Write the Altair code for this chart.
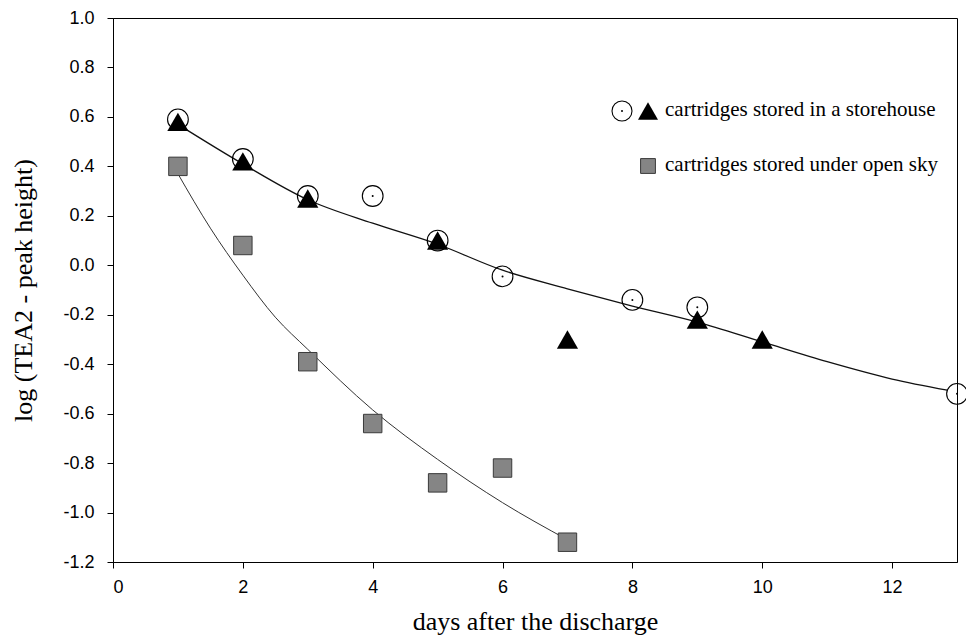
import altair as alt
import pandas as pd

# ---- data ----
store_circle_x = [1, 2, 3, 4, 5, 6, 8, 9, 13]
store_circle_y = [0.59, 0.43, 0.28, 0.28, 0.10, -0.045, -0.14, -0.17, -0.52]

store_tri_x = [1, 2, 3, 5, 7, 9, 10]
store_tri_y = [0.58, 0.42, 0.27, 0.10, -0.30, -0.22, -0.30]

sky_sq_x = [1, 2, 3, 4, 5, 6, 7]
sky_sq_y = [0.40, 0.08, -0.39, -0.64, -0.88, -0.82, -1.12]

# fitted curves
store_fit_x = [1, 2, 3, 4, 5, 6, 7, 8, 9, 10, 11, 12, 12.85]
store_fit_y = [0.57, 0.41, 0.265, 0.17, 0.085, -0.02, -0.095, -0.165, -0.23, -0.31, -0.39, -0.46, -0.505]

sky_fit_x = [1, 1.5, 2, 2.5, 3, 4, 5, 6, 7]
sky_fit_y = [0.37, 0.15, -0.04, -0.21, -0.34, -0.585, -0.785, -0.96, -1.11]

x_ticks = [0, 2, 4, 6, 8, 10, 12]
y_ticks = [-1.2, -1.0, -0.8, -0.6, -0.4, -0.2, 0.0, 0.2, 0.4, 0.6, 0.8, 1.0]

legend_labels = ["cartridges stored in a storehouse", "cartridges stored under open sky"]

SERIF = "Liberation Serif"
SANS = "Liberation Sans"

circ = pd.DataFrame({"x": store_circle_x, "y": store_circle_y})
tri = pd.DataFrame({"x": store_tri_x, "y": store_tri_y})
sq = pd.DataFrame({"x": sky_sq_x, "y": sky_sq_y})
sfit = pd.DataFrame({"x": store_fit_x, "y": store_fit_y})
kfit = pd.DataFrame({"x": sky_fit_x, "y": sky_fit_y})

label_expr = "datum.value < 0 ? '-' + format(-datum.value, '.1f') : format(datum.value, '.1f')"

xs = alt.Scale(domain=[0, 13], nice=False, zero=False)
ys = alt.Scale(domain=[-1.2, 1.0], nice=False, zero=False)

X = alt.X("x:Q", scale=xs, axis=alt.Axis(
    title="days after the discharge", values=x_ticks, format="d",
    labelFont=SANS, labelFontSize=18, labelColor="black", labelPadding=10,
    titleFont=SERIF, titleFontSize=26, titleFontWeight="normal", titleColor="black",
    titlePadding=12, domainColor="black", tickColor="black", tickSize=6, grid=False))
Y = alt.Y("y:Q", scale=ys, axis=alt.Axis(
    title="log (TEA2 - peak height)", values=y_ticks, labelExpr=label_expr,
    labelFont=SANS, labelFontSize=18, labelColor="black", labelPadding=13,
    titleFont=SERIF, titleFontSize=26, titleFontWeight="normal", titleColor="black",
    titlePadding=26, domainColor="black", tickColor="black", tickSize=6, grid=False))

l_store = alt.Chart(sfit).mark_line(color="#111111", strokeWidth=1.3, interpolate="monotone").encode(x=X, y=Y)
l_sky = alt.Chart(kfit).mark_line(color="#333333", strokeWidth=1.0, interpolate="monotone").encode(x=X, y=Y)

p_sq = alt.Chart(sq).mark_point(shape="square", size=340, filled=True, fill="#858585",
                                stroke="#3a3a3a", strokeWidth=1, opacity=1).encode(x=X, y=Y)
p_circ = alt.Chart(circ).mark_point(shape="circle", size=430, filled=False, stroke="black",
                                    strokeWidth=1.1, opacity=1).encode(x=X, y=Y)
p_dot = alt.Chart(circ).mark_point(shape="circle", size=4, filled=True, color="black",
                                   opacity=1).encode(x=X, y=Y)
p_tri = alt.Chart(tri).mark_point(shape="triangle-up", size=450, filled=True, color="black",
                                  opacity=1).encode(x=X, y=Y)

# manual legend (pixel positions inside the plot area)
leg_df = pd.DataFrame({"label": legend_labels, "row": [0, 1]})
leg_circle = alt.Chart(leg_df.iloc[[0]]).mark_point(shape="circle", size=400, filled=False,
                                                     stroke="black", strokeWidth=1.1, opacity=1).encode(
    x=alt.value(509), y=alt.value(93))
leg_cdot = alt.Chart(leg_df.iloc[[0]]).mark_point(shape="circle", size=4, filled=True, color="black",
                                                   opacity=1).encode(x=alt.value(509), y=alt.value(93))
leg_tri = alt.Chart(leg_df.iloc[[0]]).mark_point(shape="triangle-up", size=400, filled=True,
                                                  color="black", opacity=1).encode(
    x=alt.value(535), y=alt.value(93))
leg_sq = alt.Chart(leg_df.iloc[[1]]).mark_point(shape="square", size=220, filled=True, fill="#858585",
                                                 stroke="#3a3a3a", strokeWidth=1, opacity=1).encode(
    x=alt.value(535), y=alt.value(148))
leg_txt1 = alt.Chart(leg_df.iloc[[0]]).mark_text(align="left", baseline="middle", font=SERIF,
                                                  fontSize=21, color="black").encode(
    x=alt.value(552), y=alt.value(92), text="label:N")
leg_txt2 = alt.Chart(leg_df.iloc[[1]]).mark_text(align="left", baseline="middle", font=SERIF,
                                                  fontSize=21, color="black").encode(
    x=alt.value(552), y=alt.value(147), text="label:N")

chart = alt.layer(
    l_store, l_sky, p_sq, p_circ, p_dot, p_tri,
    leg_circle, leg_cdot, leg_tri, leg_sq, leg_txt1, leg_txt2
).properties(
    width=844, height=544,
    padding={"left": 113, "top": 18, "right": 9, "bottom": 79},
    autosize=alt.AutoSizeParams(type="none"),
    background="white",
).configure_view(stroke="black", strokeWidth=1)

chart.save("out.html", embed_options={"renderer": "svg", "actions": False})
